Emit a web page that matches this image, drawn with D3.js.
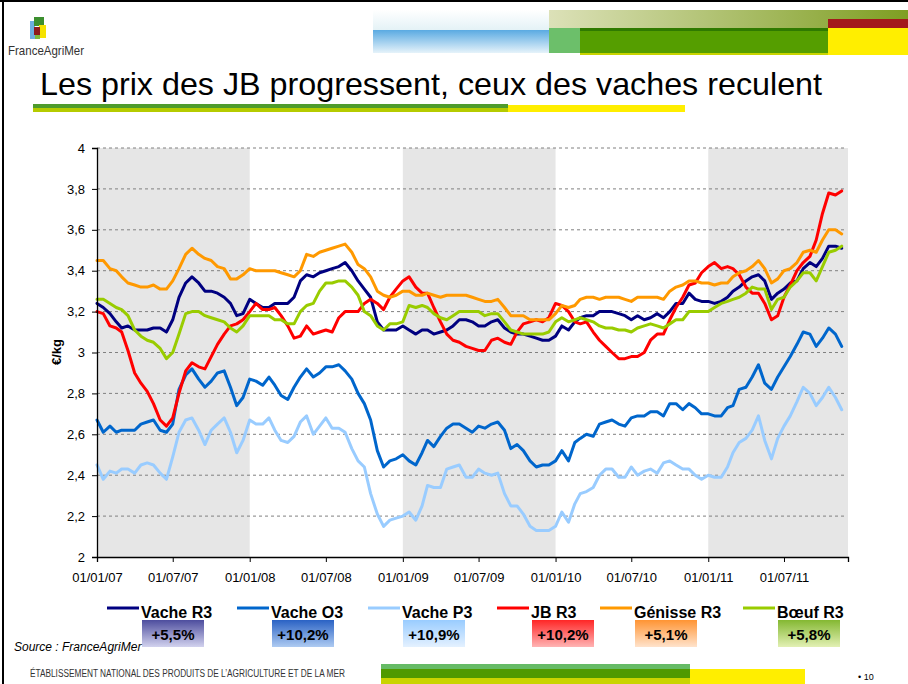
<!DOCTYPE html>
<html>
<head>
<meta charset="utf-8">
<script src="https://cdn.jsdelivr.net/npm/d3@7"></script>
<style>
  body { margin: 0; background: #fff; }
  svg { display: block; font-family: "Liberation Sans", Arial, sans-serif; }
  .narrow { font-family: "Liberation Sans Narrow", "Arial Narrow", "Liberation Sans", sans-serif; font-stretch: condensed; }
</style>
</head>
<body>
<svg id="chart" width="908" height="684"></svg>
<script>
// ---- data ----
const seriesNames = ["Vache R3", "Vache O3", "Vache P3", "JB R3", "Génisse R3", "Bœuf R3"];
const variations = ["+5,5%", "+10,2%", "+10,9%", "+10,2%", "+5,1%", "+5,8%"];
const yTicks = [2, 2.2, 2.4, 2.6, 2.8, 3, 3.2, 3.4, 3.6, 3.8, 4];
const xTickDates = ["2007-01-01", "2007-07-01", "2008-01-01", "2008-07-01", "2009-01-01",
                    "2009-07-01", "2010-01-01", "2010-07-01", "2011-01-01", "2011-07-01"];
const shadedYears = [["2007-01-01", "2008-01-01"], ["2009-01-01", "2010-01-01"], ["2011-01-01", "2011-12-01"]];

// prices read every half month (1st and 16th), Jan 2007 -> Nov 2011
const obsDates = [];
for (let m = 0; m < 59; m++) {
  obsDates.push(new Date(2007, m, 1));
  obsDates.push(new Date(2007, m, 16));
}

const vacheR3 = [
  3.24, 3.22, 3.19, 3.15, 3.12, 3.13, 3.11, 3.11, 3.11, 3.12, 3.12, 3.10, 3.16, 3.27, 3.34, 3.37, 3.34, 3.30, 3.30, 3.29, 3.27, 3.24, 3.18, 3.19, 3.26, 3.24, 3.22, 3.22, 3.24, 3.24,
  3.24, 3.27, 3.35, 3.38, 3.37, 3.39, 3.40, 3.41, 3.42, 3.44, 3.40, 3.35, 3.31, 3.27, 3.15, 3.11, 3.11, 3.11, 3.13, 3.11, 3.09, 3.11, 3.11, 3.09, 3.10, 3.11, 3.13, 3.16,
  3.16, 3.15, 3.13, 3.13, 3.15, 3.16, 3.12, 3.10, 3.09, 3.09, 3.08, 3.07, 3.06, 3.06, 3.08, 3.13, 3.11, 3.15, 3.17, 3.18, 3.18, 3.20, 3.20, 3.20, 3.19, 3.18, 3.16, 3.18, 3.16,
  3.17, 3.19, 3.17, 3.20, 3.24, 3.24, 3.29, 3.26, 3.25, 3.25, 3.24, 3.25, 3.27, 3.30, 3.32, 3.35, 3.37, 3.38, 3.35, 3.26, 3.29, 3.31, 3.34, 3.35, 3.41, 3.44, 3.42, 3.46, 3.52, 3.52, 3.51
];
const vacheO3 = [
  2.67, 2.61, 2.64, 2.61, 2.62, 2.62, 2.62, 2.65, 2.66, 2.67, 2.62, 2.61, 2.65, 2.82, 2.89, 2.92, 2.87, 2.83, 2.86, 2.90, 2.91, 2.83, 2.74, 2.78, 2.87, 2.86, 2.84, 2.88, 2.84, 2.79,
  2.77, 2.83, 2.88, 2.92, 2.88, 2.90, 2.93, 2.93, 2.94, 2.91, 2.87, 2.80, 2.75, 2.67, 2.52, 2.44, 2.47, 2.48, 2.50, 2.47, 2.45, 2.51, 2.57, 2.54, 2.59, 2.63, 2.65, 2.65,
  2.63, 2.61, 2.64, 2.63, 2.65, 2.66, 2.62, 2.53, 2.55, 2.52, 2.47, 2.44, 2.45, 2.45, 2.47, 2.52, 2.47, 2.56, 2.58, 2.60, 2.59, 2.65, 2.66, 2.67, 2.65, 2.64, 2.68, 2.69, 2.69,
  2.71, 2.71, 2.69, 2.75, 2.75, 2.72, 2.75, 2.73, 2.70, 2.70, 2.69, 2.69, 2.73, 2.74, 2.82, 2.83, 2.88, 2.94, 2.85, 2.82, 2.88, 2.93, 2.98, 3.04, 3.10, 3.09, 3.03, 3.07, 3.12, 3.09, 3.03
];
const vacheP3 = [
  2.45, 2.38, 2.42, 2.41, 2.43, 2.43, 2.41, 2.45, 2.46, 2.45, 2.41, 2.38, 2.49, 2.61, 2.67, 2.68, 2.62, 2.55, 2.62, 2.65, 2.68, 2.61, 2.51, 2.57, 2.67, 2.65, 2.65, 2.68, 2.62, 2.57,
  2.56, 2.59, 2.66, 2.69, 2.60, 2.64, 2.68, 2.63, 2.63, 2.61, 2.53, 2.47, 2.44, 2.31, 2.21, 2.15, 2.18, 2.19, 2.20, 2.22, 2.18, 2.25, 2.35, 2.34, 2.34, 2.43, 2.44, 2.45,
  2.39, 2.39, 2.43, 2.41, 2.40, 2.41, 2.31, 2.25, 2.25, 2.21, 2.15, 2.13, 2.13, 2.13, 2.15, 2.22, 2.17, 2.26, 2.31, 2.32, 2.34, 2.40, 2.43, 2.43, 2.39, 2.39, 2.44, 2.40, 2.42,
  2.43, 2.41, 2.46, 2.47, 2.45, 2.43, 2.43, 2.40, 2.38, 2.40, 2.39, 2.39, 2.44, 2.51, 2.56, 2.58, 2.62, 2.69, 2.57, 2.48, 2.58, 2.64, 2.69, 2.76, 2.83, 2.80, 2.74, 2.78, 2.83, 2.78, 2.72
];
const jbR3 = [
  3.20, 3.19, 3.13, 3.12, 3.10, 3.01, 2.90, 2.85, 2.81, 2.75, 2.67, 2.64, 2.68, 2.80, 2.91, 2.95, 2.93, 2.92, 2.98, 3.04, 3.09, 3.13, 3.14, 3.16, 3.20, 3.24, 3.21, 3.21, 3.22, 3.18,
  3.13, 3.07, 3.08, 3.13, 3.09, 3.10, 3.11, 3.10, 3.17, 3.20, 3.20, 3.20, 3.24, 3.26, 3.24, 3.21, 3.27, 3.31, 3.35, 3.37, 3.32, 3.29, 3.29, 3.22, 3.15, 3.09, 3.06, 3.05,
  3.03, 3.02, 3.01, 3.01, 3.06, 3.07, 3.05, 3.04, 3.10, 3.14, 3.15, 3.16, 3.15, 3.17, 3.24, 3.23, 3.20, 3.15, 3.14, 3.15, 3.10, 3.06, 3.03, 3.00, 2.97, 2.97, 2.98, 2.98, 3.00,
  3.06, 3.09, 3.09, 3.16, 3.22, 3.27, 3.33, 3.34, 3.39, 3.42, 3.44, 3.41, 3.42, 3.41, 3.38, 3.32, 3.29, 3.29, 3.24, 3.16, 3.18, 3.27, 3.33, 3.40, 3.44, 3.47, 3.55, 3.68, 3.78, 3.77, 3.79
];
const genisseR3 = [
  3.45, 3.45, 3.41, 3.40, 3.37, 3.34, 3.33, 3.32, 3.32, 3.33, 3.31, 3.31, 3.35, 3.41, 3.48, 3.51, 3.48, 3.46, 3.45, 3.42, 3.41, 3.36, 3.36, 3.38, 3.41, 3.40, 3.40, 3.40, 3.40, 3.39,
  3.38, 3.37, 3.40, 3.48, 3.47, 3.49, 3.50, 3.51, 3.52, 3.53, 3.49, 3.43, 3.41, 3.37, 3.30, 3.28, 3.27, 3.28, 3.30, 3.30, 3.28, 3.28, 3.29, 3.28, 3.27, 3.28, 3.28, 3.28,
  3.28, 3.27, 3.26, 3.25, 3.25, 3.26, 3.22, 3.18, 3.18, 3.18, 3.16, 3.16, 3.16, 3.16, 3.19, 3.23, 3.22, 3.23, 3.26, 3.27, 3.27, 3.26, 3.27, 3.27, 3.27, 3.26, 3.25, 3.27, 3.27,
  3.27, 3.27, 3.26, 3.30, 3.32, 3.33, 3.35, 3.35, 3.34, 3.34, 3.33, 3.34, 3.34, 3.37, 3.39, 3.40, 3.42, 3.45, 3.41, 3.34, 3.36, 3.40, 3.41, 3.44, 3.49, 3.50, 3.49, 3.55, 3.60, 3.60, 3.58
];
const boeufR3 = [
  3.26, 3.26, 3.24, 3.22, 3.21, 3.18, 3.11, 3.08, 3.06, 3.05, 3.02, 2.97, 3.00, 3.09, 3.19, 3.20, 3.20, 3.18, 3.17, 3.16, 3.15, 3.12, 3.10, 3.13, 3.18, 3.18, 3.18, 3.18, 3.16, 3.16,
  3.14, 3.14, 3.20, 3.23, 3.24, 3.30, 3.34, 3.34, 3.35, 3.35, 3.32, 3.28, 3.20, 3.18, 3.13, 3.11, 3.14, 3.14, 3.15, 3.23, 3.22, 3.23, 3.22, 3.19, 3.17, 3.16, 3.18, 3.20,
  3.20, 3.20, 3.20, 3.18, 3.19, 3.19, 3.15, 3.11, 3.10, 3.09, 3.09, 3.09, 3.09, 3.10, 3.15, 3.17, 3.15, 3.16, 3.17, 3.16, 3.15, 3.13, 3.12, 3.12, 3.11, 3.11, 3.10, 3.12, 3.13,
  3.14, 3.13, 3.12, 3.14, 3.16, 3.16, 3.20, 3.20, 3.20, 3.20, 3.22, 3.24, 3.25, 3.26, 3.27, 3.29, 3.32, 3.31, 3.31, 3.21, 3.26, 3.27, 3.32, 3.35, 3.39, 3.39, 3.35, 3.42, 3.49, 3.50, 3.52
];

const seriesValues = [vacheR3, vacheO3, vacheP3, jbR3, genisseR3, boeufR3];
const lineColors = ["#000080", "#0066CC", "#99CCFF", "#FF0000", "#FF9900", "#99CC00"];
const boxGradients = [["#4D4D9E", "#D2D2EE"], ["#2A62C4", "#AECBF2"], ["#99CCFF", "#E4F1FF"],
                      ["#FF2626", "#FFB4B4"], ["#FF9433", "#FFE3CC"], ["#84B832", "#E2F0B4"]];

// ---- layout ----
const parse = d3.timeParse("%Y-%m-%d");
const svg = d3.select("#chart");
const plotLeft = 97, plotRight = 848, plotTop = 148, plotBottom = 557;

const x = d3.scaleTime().domain([parse("2007-01-01"), parse("2011-12-01")]).range([plotLeft, plotRight]);
const y = d3.scaleLinear().domain([2, 4]).range([plotBottom, plotTop]);

// page frame
svg.append("rect").attr("x", 0).attr("y", 0).attr("width", 908).attr("height", 2).attr("fill", "#000");
svg.append("rect").attr("x", 2).attr("y", 0).attr("width", 2).attr("height", 684).attr("fill", "#000");

// ---- header decoration ----
const defs = svg.append("defs");
const gBlue = defs.append("linearGradient").attr("id", "gBlue").attr("x1", 0).attr("y1", 0).attr("x2", 0).attr("y2", 1);
gBlue.append("stop").attr("offset", 0).attr("stop-color", "#5AAAE2");
gBlue.append("stop").attr("offset", 1).attr("stop-color", "#E6F3FA");
const gHalo = defs.append("linearGradient").attr("id", "gHalo").attr("x1", 0).attr("y1", 0).attr("x2", 0).attr("y2", 1);
gHalo.append("stop").attr("offset", 0).attr("stop-color", "#ffffff");
gHalo.append("stop").attr("offset", 1).attr("stop-color", "#E4F2F6");
const gOlive = defs.append("linearGradient").attr("id", "gOlive").attr("x1", 0).attr("y1", 0).attr("x2", 1).attr("y2", 0);
gOlive.append("stop").attr("offset", 0).attr("stop-color", "#DCE1B8");
gOlive.append("stop").attr("offset", 1).attr("stop-color", "#7E9E22");

svg.append("rect").attr("x", 373).attr("y", 10).attr("width", 177).attr("height", 20).attr("fill", "url(#gHalo)");
svg.append("rect").attr("x", 373).attr("y", 30).attr("width", 177).attr("height", 23).attr("fill", "url(#gBlue)");
svg.append("rect").attr("x", 549).attr("y", 10).attr("width", 359).attr("height", 18).attr("fill", "url(#gOlive)");
svg.append("rect").attr("x", 549).attr("y", 28).attr("width", 31).attr("height", 25).attr("fill", "#6CBF6A");
svg.append("rect").attr("x", 580).attr("y", 28).attr("width", 248).attr("height", 25).attr("fill", "#559E00");
svg.append("rect").attr("x", 580).attr("y", 28).attr("width", 248).attr("height", 3).attr("fill", "#2F7A00");
svg.append("rect").attr("x", 580).attr("y", 53).attr("width", 248).attr("height", 2).attr("fill", "#C9D400");
svg.append("rect").attr("x", 828).attr("y", 19).attr("width", 80).attr("height", 9).attr("fill", "#A3191B");
svg.append("rect").attr("x", 828).attr("y", 28).attr("width", 80).attr("height", 27).attr("fill", "#FFEE00");

// logo
const logo = svg.append("g").attr("transform", "translate(30,17)");
logo.append("rect").attr("x", 0).attr("y", 4).attr("width", 5).attr("height", 18).attr("fill", "#6DAFDF");
logo.append("rect").attr("x", 4).attr("y", 0).attr("width", 10).attr("height", 9).attr("fill", "#3C8F2F");
logo.append("rect").attr("x", 9).attr("y", 8).attr("width", 7).attr("height", 13).attr("fill", "#F5E200");
logo.append("rect").attr("x", 4).attr("y", 10).attr("width", 6).attr("height", 8).attr("fill", "#8E1C1C");
logo.append("rect").attr("x", 5).attr("y", 18).attr("width", 5).attr("height", 4).attr("fill", "#7DBB3C");
svg.append("text").attr("class", "narrow").attr("x", 8).attr("y", 55)
  .attr("font-size", 13).attr("fill", "#333").attr("textLength", 76).attr("lengthAdjust", "spacingAndGlyphs")
  .text("FranceAgriMer");

// title + underline
svg.append("text").attr("x", 40).attr("y", 95).attr("font-size", 32).attr("fill", "#000")
  .attr("textLength", 782).attr("lengthAdjust", "spacingAndGlyphs")
  .text("Les prix des JB progressent, ceux des vaches reculent");
svg.append("rect").attr("x", 33).attr("y", 104).attr("width", 475).attr("height", 4).attr("fill", "#4E9B2C");
svg.append("rect").attr("x", 33).attr("y", 108).attr("width", 475).attr("height", 4).attr("fill", "#B5CB00");
svg.append("rect").attr("x", 508).attr("y", 105).attr("width", 177).attr("height", 7).attr("fill", "#FFEE00");

// ---- plot background ----
svg.append("g").selectAll("rect").data(shadedYears).join("rect")
  .attr("x", d => x(parse(d[0])))
  .attr("y", plotTop)
  .attr("width", d => x(parse(d[1])) - x(parse(d[0])))
  .attr("height", plotBottom - plotTop)
  .attr("fill", "#E6E6E6");

svg.append("g").selectAll("line").data(yTicks.filter(v => v > 2)).join("line")
  .attr("x1", plotLeft).attr("x2", plotRight - 4)
  .attr("y1", d => y(d)).attr("y2", d => y(d))
  .attr("stroke", "#808080").attr("stroke-width", 1).attr("stroke-dasharray", "3,3");

// ---- series ----
const line = d3.line().x((d, i) => x(obsDates[i])).y(d => y(d));
svg.append("g").selectAll("path").data(seriesValues).join("path")
  .attr("d", line)
  .attr("fill", "none")
  .attr("stroke", (d, i) => lineColors[i])
  .attr("stroke-width", 3)
  .attr("stroke-linejoin", "round")
  .attr("stroke-linecap", "round");

// ---- axes ----
const yFmt = v => d3.format("~g")(v).replace(".", ",");
const yAxis = svg.append("g").attr("transform", `translate(${plotLeft},0)`)
  .call(d3.axisLeft(y).tickValues(yTicks).tickSize(5).tickPadding(7).tickFormat(yFmt));
const xAxis = svg.append("g").attr("transform", `translate(0,${plotBottom})`)
  .call(d3.axisBottom(x).tickValues(xTickDates.map(parse)).tickSize(5).tickPadding(11)
    .tickFormat(d3.timeFormat("%d/%m/%y")));
[yAxis, xAxis].forEach(a => {
  a.selectAll("text").attr("font-size", 13).attr("fill", "#000").attr("font-family", "\"Liberation Sans\", Arial, sans-serif");
  a.selectAll("line").attr("stroke", "#000");
  a.select(".domain").attr("stroke", "#000").attr("stroke-width", 1.3);
});

svg.append("text").attr("transform", "translate(61,352) rotate(-90)")
  .attr("text-anchor", "middle").attr("font-size", 13).attr("font-weight", "bold").text("€/kg");

// ---- legend ----
const legendX = [107, 237, 368, 497, 600, 743];
const legend = svg.append("g").selectAll("g").data(seriesNames).join("g")
  .attr("transform", (d, i) => `translate(${legendX[i]},0)`);
legend.append("line").attr("x1", 0).attr("x2", 32).attr("y1", 608).attr("y2", 608)
  .attr("stroke", (d, i) => lineColors[i]).attr("stroke-width", 3);
legend.append("text").attr("x", 34).attr("y", 618).attr("font-size", 16).attr("font-weight", "bold")
  .text(d => d);

boxGradients.forEach((c, i) => {
  const g = defs.append("linearGradient").attr("id", "box" + i).attr("x1", 0).attr("y1", 0).attr("x2", 0).attr("y2", 1);
  g.append("stop").attr("offset", 0).attr("stop-color", c[0]);
  g.append("stop").attr("offset", 1).attr("stop-color", c[1]);
});
legend.append("rect").attr("x", 35).attr("y", 620).attr("width", 62).attr("height", 27)
  .attr("fill", (d, i) => `url(#box${i})`);
legend.append("text").attr("x", 66).attr("y", 640).attr("text-anchor", "middle")
  .attr("font-size", 15).attr("font-weight", "bold").text((d, i) => variations[i]);

// ---- footer ----
svg.append("text").attr("x", 14).attr("y", 651).attr("font-size", 12).attr("font-style", "italic")
  .text("Source : FranceAgriMer");
svg.append("text").attr("class", "narrow").attr("x", 30).attr("y", 677).attr("font-size", 10).attr("fill", "#333")
  .attr("textLength", 315).attr("lengthAdjust", "spacingAndGlyphs")
  .text("ÉTABLISSEMENT NATIONAL DES PRODUITS DE L’AGRICULTURE ET DE LA MER");
svg.append("rect").attr("x", 381).attr("y", 664).attr("width", 309).attr("height", 5).attr("fill", "#66BB66");
svg.append("rect").attr("x", 381).attr("y", 669).attr("width", 309).attr("height", 9).attr("fill", "#4F9A00");
svg.append("rect").attr("x", 381).attr("y", 678).attr("width", 309).attr("height", 6).attr("fill", "#C9D400");
svg.append("rect").attr("x", 690).attr("y", 669).attr("width", 115).attr("height", 15).attr("fill", "#FFEE00");
svg.append("text").attr("x", 858).attr("y", 680).attr("font-size", 9).text("• 10");
</script>
</body>
</html>
